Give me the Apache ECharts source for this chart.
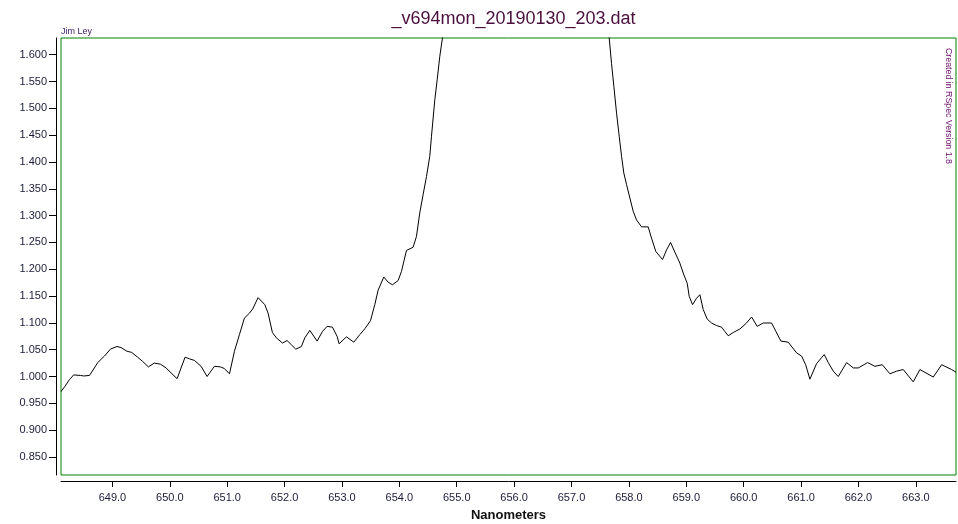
<!DOCTYPE html>
<html>
<head>
<meta charset="utf-8">
<script src="https://cdn.jsdelivr.net/npm/echarts@6/dist/echarts.min.js"></script>
<style>html,body{margin:0;padding:0;background:#fff;}#c{width:958px;height:524px;}</style>
</head>
<body>
<div id="c"></div>
<script>
const wavelengths = [
648.105, 648.174, 648.25, 648.325, 648.442, 648.50, 648.60, 648.674, 648.744, 648.86, 648.965, 649.08, 649.15, 649.255, 649.336, 649.44, 649.528, 649.627, 649.73, 649.836, 649.935, 650.02, 650.127, 650.266, 650.342, 650.43, 650.545, 650.65, 650.777, 650.88, 650.95, 651.04, 651.126, 651.213, 651.30, 651.387, 651.445, 651.538, 651.655, 651.713, 651.788, 651.858, 651.963, 652.044, 652.12, 652.195, 652.294, 652.352, 652.44, 652.567, 652.66, 652.741, 652.834, 652.915, 652.95, 653.078, 653.206, 653.31, 653.398, 653.497, 653.572, 653.63, 653.729, 653.804, 653.88, 653.979, 654.037, 654.124, 654.24, 654.298, 654.356, 654.414, 654.473, 654.53, 654.56, 654.589, 654.618, 654.659, 654.705, 654.751,
654.85, 655.0, 655.5, 656.2, 656.9, 657.4, 657.55,
657.657, 657.697, 657.738, 657.785, 657.831, 657.872, 657.912, 657.959, 658.017, 658.075, 658.133, 658.22, 658.336, 658.394, 658.47, 658.586, 658.656, 658.726, 658.80, 658.888, 658.946, 659.016, 659.051, 659.109, 659.179, 659.237, 659.295, 659.365, 659.44, 659.527, 659.615, 659.673, 659.731, 659.818, 659.934, 660.05, 660.138, 660.236, 660.341, 660.486, 660.562, 660.649, 660.777, 660.922, 661.01, 661.08, 661.154, 661.27, 661.404, 661.474, 661.561, 661.648, 661.794, 661.91, 661.997, 662.16, 662.287, 662.415, 662.549, 662.665, 662.781, 662.955, 663.071, 663.304, 663.45, 663.624, 663.70
];
const intensity = [
0.972, 0.982, 0.994, 1.003, 1.002, 1.001, 1.002, 1.014, 1.026, 1.038, 1.051, 1.056, 1.054, 1.047, 1.045, 1.036, 1.028, 1.018, 1.025, 1.023, 1.016, 1.007, 0.996, 1.036, 1.033, 1.030, 1.019, 1.000, 1.019, 1.018, 1.015, 1.005, 1.047, 1.078, 1.109, 1.118, 1.126, 1.147, 1.134, 1.118, 1.082, 1.072, 1.0625, 1.067, 1.059, 1.051, 1.056, 1.072, 1.086, 1.066, 1.084, 1.0935, 1.092, 1.075, 1.061, 1.074, 1.064, 1.078, 1.089, 1.104, 1.134, 1.161, 1.1855, 1.176, 1.171, 1.179, 1.196, 1.235, 1.241, 1.261, 1.305, 1.339, 1.373, 1.4105, 1.448, 1.482, 1.516, 1.553, 1.597, 1.631,
2.1, 3.0, 5.0, 6.0, 5.0, 3.0, 2.0,
1.631, 1.584, 1.541, 1.491, 1.448, 1.4105, 1.379, 1.358, 1.333, 1.308, 1.292, 1.279, 1.279, 1.258, 1.233, 1.218, 1.236, 1.250, 1.232, 1.2115, 1.193, 1.174, 1.1495, 1.134, 1.146, 1.1525, 1.125, 1.107, 1.0998, 1.095, 1.092, 1.084, 1.076, 1.082, 1.0886, 1.0998, 1.111, 1.0935, 1.0998, 1.0998, 1.084, 1.066, 1.064, 1.044, 1.038, 1.022, 0.995, 1.024, 1.041, 1.026, 1.010, 1.000, 1.026, 1.016, 1.016, 1.026, 1.019, 1.022, 1.005, 1.010, 1.013, 0.990, 1.013, 0.999, 1.022, 1.013, 1.008
];
const xTicks = [649, 650, 651, 652, 653, 654, 655, 656, 657, 658, 659, 660, 661, 662, 663];
const yTicks = [0.85, 0.90, 0.95, 1.00, 1.05, 1.10, 1.15, 1.20, 1.25, 1.30, 1.35, 1.40, 1.45, 1.50, 1.55, 1.60];

const points = wavelengths.map((w, i) => [w, intensity[i]]);
const FONT = '"Liberation Sans", Arial, sans-serif';

const chart = echarts.init(document.getElementById('c'), null, {renderer: 'canvas'});
chart.setOption({
  backgroundColor: '#ffffff',
  animation: false,
  title: {
    text: '_v694mon_20190130_203.dat',
    left: 508.5, top: 5, textAlign: 'center',
    textStyle: {fontFamily: FONT, fontSize: 18, fontWeight: 'normal', color: '#4a0f3c'}
  },
  graphic: [
    {type: 'text', left: 61, top: 27, style: {text: 'Jim Ley', font: '9px ' + FONT, fill: '#3b1a66'}},
    {type: 'text', x: 948, y: 48, rotation: -Math.PI / 2,
     style: {text: 'Created in RSpec Version 1.8', font: '8.8px ' + FONT, fill: '#6a0a6a', textAlign: 'left', textVerticalAlign: 'middle'}}
  ],
  grid: {left: 61, top: 38, right: 2, bottom: 49, show: true, borderColor: '#008000', borderWidth: 1,
         backgroundColor: 'transparent', containLabel: false, outerBoundsMode: 'none'},
  xAxis: {
    type: 'value', min: 648.104, max: 663.70, offset: 6,
    name: 'Nanometers', nameLocation: 'middle', nameGap: 28,
    nameTextStyle: {fontFamily: FONT, fontSize: 13, fontWeight: 'bold', color: '#111'},
    axisLine: {show: true, lineStyle: {color: '#000', width: 1}},
    axisTick: {show: true, length: 6, lineStyle: {color: '#000'}, customValues: xTicks},
    axisLabel: {margin: 11, fontFamily: FONT, fontSize: 11, color: '#1c1c3a', customValues: xTicks, formatter: v => v.toFixed(1)},
    splitLine: {show: false}
  },
  yAxis: {
    type: 'value', min: 0.8164, max: 1.6311, offset: 5,
    axisLine: {show: true, lineStyle: {color: '#000', width: 1}},
    axisTick: {show: true, length: 7, lineStyle: {color: '#000'}, customValues: yTicks},
    axisLabel: {margin: 9, fontFamily: FONT, fontSize: 11, color: '#1c1c3a', customValues: yTicks, formatter: v => v.toFixed(3)},
    splitLine: {show: false}
  },
  series: [{
    type: 'line', data: points, showSymbol: false, symbol: 'none', clip: true,
    lineStyle: {color: '#000', width: 1}
  }]
});
</script>
</body>
</html>
